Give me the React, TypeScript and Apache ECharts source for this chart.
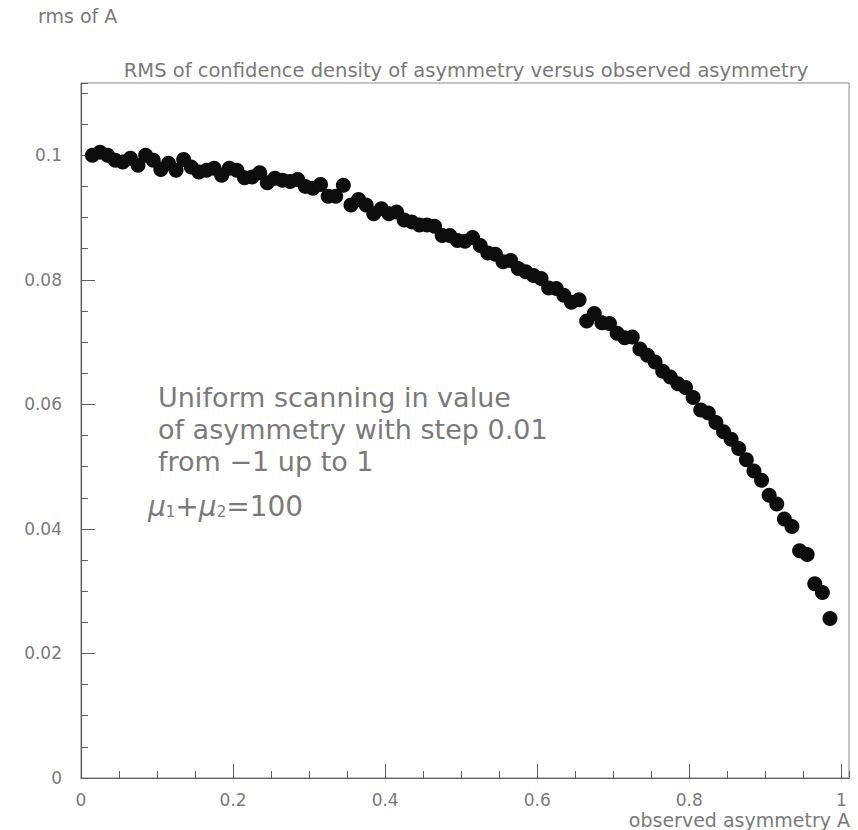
import React, { useEffect, useRef } from "react";
import * as echarts from "echarts";

const asymmetry = [
  0.015, 0.025, 0.035, 0.045, 0.055, 0.065, 0.075, 0.085, 0.095, 0.105,
  0.115, 0.125, 0.135, 0.145, 0.155, 0.165, 0.175, 0.185, 0.195, 0.205,
  0.215, 0.225, 0.235, 0.245, 0.255, 0.265, 0.275, 0.285, 0.295, 0.305,
  0.315, 0.325, 0.335, 0.345, 0.355, 0.365, 0.375, 0.385, 0.395, 0.405,
  0.415, 0.425, 0.435, 0.445, 0.455, 0.465, 0.475, 0.485, 0.495, 0.505,
  0.515, 0.525, 0.535, 0.545, 0.555, 0.565, 0.575, 0.585, 0.595, 0.605,
  0.615, 0.625, 0.635, 0.645, 0.655, 0.665, 0.675, 0.685, 0.695, 0.705,
  0.715, 0.725, 0.735, 0.745, 0.755, 0.765, 0.775, 0.785, 0.795, 0.805,
  0.815, 0.825, 0.835, 0.845, 0.855, 0.865, 0.875, 0.885, 0.895, 0.905,
  0.915, 0.925, 0.935, 0.945, 0.955, 0.965, 0.975, 0.985,
];

const rmsOfA = [
  0.1000, 0.1005, 0.1000, 0.0992, 0.0989, 0.0995, 0.0984, 0.1000, 0.0992, 0.0977,
  0.0987, 0.0976, 0.0993, 0.0981, 0.0973, 0.0976, 0.0979, 0.0968, 0.0979, 0.0976,
  0.0964, 0.0965, 0.0972, 0.0956, 0.0963, 0.0960, 0.0958, 0.0961, 0.0950, 0.0947,
  0.0953, 0.0934, 0.0934, 0.0952, 0.0920, 0.0929, 0.0920, 0.0906, 0.0914, 0.0906,
  0.0909, 0.0896, 0.0893, 0.0888, 0.0888, 0.0886, 0.0871, 0.0871, 0.0863, 0.0862,
  0.0868, 0.0855, 0.0843, 0.0841, 0.0829, 0.0831, 0.0818, 0.0813, 0.0807, 0.0802,
  0.0787, 0.0786, 0.0775, 0.0764, 0.0768, 0.0734, 0.0746, 0.0731, 0.0730, 0.0714,
  0.0707, 0.0708, 0.0689, 0.0679, 0.0668, 0.0653, 0.0644, 0.0633, 0.0627, 0.0611,
  0.0591, 0.0586, 0.0571, 0.0556, 0.0544, 0.0529, 0.0511, 0.0493, 0.0478, 0.0454,
  0.0440, 0.0416, 0.0404, 0.0365, 0.0359, 0.0312, 0.0298, 0.0256,
];

const xRange = [0, 1.01];
const yRange = [0, 0.1116];
const xMajorStep = 0.2;
const xMinorStep = 0.05;
const yMajorStep = 0.02;
const yMinorStep = 0.005;

const titleText = "RMS of confidence density of asymmetry versus observed asymmetry";
const yName = "rms of A";
const xName = "observed asymmetry A";
const noteLines = [
  "Uniform scanning in value",
  "of asymmetry with step 0.01",
  "from \u22121 up to 1",
];

const FONT = "DejaVu Sans";
const TXT = "#7a7a7a";

export default function App() {
  const ref = useRef<HTMLDivElement>(null);
  useEffect(() => {
    if (!ref.current) return;
    const chart = echarts.init(ref.current, undefined, { renderer: "svg" });
    const points = asymmetry.map((x, i) => [x, rmsOfA[i]]);
    const fmt = (v: number) => {
      const r = Math.round(v * 1000) / 1000;
      return r === 0 ? "0" : String(r);
    };
    chart.setOption({
      animation: false,
      backgroundColor: "#ffffff",
      grid: {
        left: 81,
        top: 83,
        width: 768,
        height: 695,
        show: true,
        borderColor: "#8a8a8a",
        borderWidth: 1,
        backgroundColor: "transparent",
      },
      xAxis: [
        {
          type: "value",
          min: xRange[0],
          max: xRange[1],
          interval: xMajorStep,
          axisLine: { show: true, onZero: false, lineStyle: { color: "#606060", width: 1.2 } },
          axisTick: { show: true, inside: true, length: 14, lineStyle: { color: "#606060" } },
          axisLabel: {
            show: true,
            showMaxLabel: false,
            margin: 13,
            color: TXT,
            fontFamily: FONT,
            fontSize: 17,
            formatter: fmt,
          },
          splitLine: { show: false },
        },
        {
          type: "value",
          min: xRange[0],
          max: xRange[1],
          interval: xMinorStep,
          position: "bottom",
          axisLine: { show: false, onZero: false },
          axisTick: { show: true, inside: true, length: 7, lineStyle: { color: "#606060" } },
          axisLabel: { show: false },
          splitLine: { show: false },
        },
      ],
      yAxis: [
        {
          type: "value",
          min: yRange[0],
          max: yRange[1],
          interval: yMajorStep,
          axisLine: { show: true, onZero: false, lineStyle: { color: "#606060", width: 1.2 } },
          axisTick: { show: true, inside: true, length: 14, lineStyle: { color: "#606060" } },
          axisLabel: {
            show: true,
            showMaxLabel: false,
            margin: 19,
            color: TXT,
            fontFamily: FONT,
            fontSize: 17,
            formatter: fmt,
          },
          splitLine: { show: false },
        },
        {
          type: "value",
          min: yRange[0],
          max: yRange[1],
          interval: yMinorStep,
          position: "left",
          axisLine: { show: false, onZero: false },
          axisTick: { show: true, inside: true, length: 7, lineStyle: { color: "#606060" } },
          axisLabel: { show: false },
          splitLine: { show: false },
        },
      ],
      series: [
        {
          type: "scatter",
          xAxisIndex: 0,
          yAxisIndex: 0,
          data: points,
          symbol: "circle",
          symbolSize: 15,
          itemStyle: { color: "#0d0d0d", opacity: 1 },
          z: 5,
        },
      ],
      graphic: [
        {
          type: "text",
          x: 38,
          y: 16,
          style: {
            text: yName,
            fill: TXT,
            font: `19px "${FONT}"`,
            align: "left",
            verticalAlign: "middle",
          },
        },
        {
          type: "text",
          x: 466,
          y: 70,
          style: {
            text: titleText,
            fill: TXT,
            font: `19.5px "${FONT}"`,
            align: "center",
            verticalAlign: "middle",
          },
        },
        {
          type: "text",
          x: 850,
          y: 820,
          style: {
            text: xName,
            fill: TXT,
            font: `19px "${FONT}"`,
            align: "right",
            verticalAlign: "middle",
          },
        },
        {
          type: "text",
          x: 158,
          y: 381,
          style: {
            text: noteLines.join("\n"),
            fill: TXT,
            font: `27px "${FONT}"`,
            lineHeight: 32,
            align: "left",
            verticalAlign: "top",
          },
        },
        {
          type: "text",
          x: 148,
          y: 492,
          style: {
            text: "{mu|\u03bc}{sub|1}{op|+}{mu|\u03bc}{sub|2}{op|=100}",
            fill: TXT,
            align: "left",
            verticalAlign: "top",
            rich: {
              mu: { fontFamily: FONT, fontSize: 28, fontStyle: "italic", fill: TXT, color: TXT },
              sub: { fontFamily: FONT, fontSize: 15, fill: TXT, color: TXT, padding: [12, 0, 0, 0] },
              op: { fontFamily: FONT, fontSize: 28, fill: TXT, color: TXT },
            },
          },
        },
      ],
    });
    return () => chart.dispose();
  }, []);
  return (
    <div
      ref={ref}
      style={{ position: "fixed", left: 0, top: 0, width: 858, height: 830, background: "#fff" }}
    />
  );
}
